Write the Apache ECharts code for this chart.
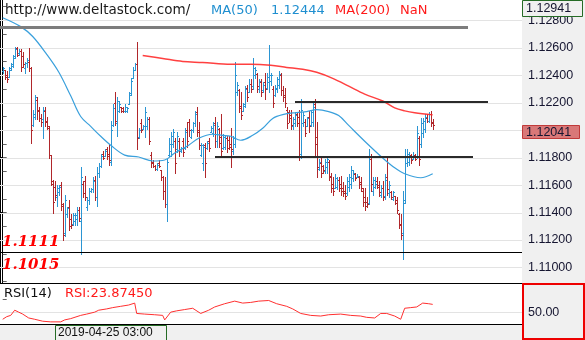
<!DOCTYPE html>
<html>
<head>
<meta charset="utf-8">
<script src="https://cdn.jsdelivr.net/npm/echarts@6/dist/echarts.min.js"></script>
<style>
  html, body { margin: 0; padding: 0; background: #fff; }
  #chart { width: 585px; height: 340px; }
</style>
</head>
<body>
<div id="chart"></div>
<script>
// EUR/USD hourly OHLC bars (oldest first)
const opens = [
  1.1243,1.1244,1.1240,1.1239,1.1245,1.1247,1.1254,1.1260,1.1256,1.1258,
  1.1254,1.1245,1.1249,1.1250,1.1245,1.1204,1.1210,1.1222,1.1215,1.1209,
  1.1208,1.1214,1.1207,1.1202,1.1182,1.1161,1.1159,1.1151,1.1155,1.1160,
  1.1145,1.1125,1.1139,1.1144,1.1135,1.1132,1.1134,1.1135,1.1142,1.1134,
  1.1161,1.1163,1.1144,1.1149,1.1156,1.1157,1.1164,1.1151,1.1169,1.1174,
  1.1183,1.1181,1.1186,1.1183,1.1177,1.1204,1.1220,1.1205,1.1214,1.1217,
  1.1216,1.1214,1.1214,1.1219,1.1227,1.1238,1.1244,1.1248,1.1195,1.1205,
  1.1201,1.1203,1.1203,1.1208,1.1182,1.1177,1.1174,1.1172,1.1176,1.1171,
  1.1166,1.1156,1.1146,1.1182,1.1185,1.1190,1.1192,1.1186,1.1192,1.1185,
  1.1192,1.1187,1.1200,1.1206,1.1195,1.1200,1.1205,1.1213,1.1200,1.1182,
  1.1176,1.1189,1.1187,1.1192,1.1199,1.1198,1.1205,1.1192,1.1201,1.1195,
  1.1187,1.1188,1.1194,1.1193,1.1190,1.1185,1.1190,1.1228,1.1229,1.1218,
  1.1214,1.1218,1.1231,1.1228,1.1234,1.1232,1.1240,1.1241,1.1230,1.1235,
  1.1229,1.1235,1.1231,1.1235,1.1236,1.1230,1.1226,1.1230,1.1233,1.1240,
  1.1229,1.1226,1.1215,1.1213,1.1211,1.1203,1.1205,1.1212,1.1210,1.1183,
  1.1205,1.1206,1.1203,1.1210,1.1204,1.1206,1.1219,1.1195,1.1172,1.1176,
  1.1174,1.1170,1.1173,1.1177,1.1166,1.1161,1.1158,1.1159,1.1164,1.1161,
  1.1158,1.1156,1.1154,1.1159,1.1161,1.1165,1.1168,1.1166,1.1166,1.1162,
  1.1156,1.1151,1.1148,1.1147,1.1179,1.1156,1.1159,1.1163,1.1160,1.1153,
  1.1158,1.1152,1.1166,1.1154,1.1155,1.1150,1.1152,1.1149,1.1139,1.1132,
  1.1125,1.1149,1.1176,1.1177,1.1182,1.1179,1.1182,1.1181,1.1194,1.1190,
  1.1198,1.1201,1.1209,1.1207,1.1212,1.1206
];
const highs = [
  1.1246,1.1244,1.1243,1.1246,1.1249,1.1255,1.1261,1.1261,1.1259,1.1259,
  1.1257,1.1250,1.1253,1.1260,1.1246,1.1215,1.1226,1.1224,1.1217,1.1212,
  1.1217,1.1217,1.1210,1.1203,1.1182,1.1164,1.1163,1.1160,1.1160,1.1162,
  1.1147,1.1153,1.1144,1.1149,1.1139,1.1140,1.1140,1.1144,1.1144,1.1173,
  1.1163,1.1167,1.1151,1.1158,1.1158,1.1166,1.1167,1.1173,1.1176,1.1183,
  1.1185,1.1186,1.1188,1.1190,1.1207,1.1219,1.1228,1.1224,1.1221,1.1217,
  1.1217,1.1219,1.1217,1.1228,1.1238,1.1246,1.1249,1.1264,1.1202,1.1208,
  1.1204,1.1217,1.1210,1.1210,1.1184,1.1178,1.1175,1.1176,1.1178,1.1171,
  1.1167,1.1166,1.1179,1.1194,1.1199,1.1201,1.1194,1.1199,1.1194,1.1188,
  1.1194,1.1202,1.1206,1.1208,1.1201,1.1206,1.1214,1.1217,1.1206,1.1191,
  1.1190,1.1191,1.1192,1.1194,1.1203,1.1206,1.1210,1.1206,1.1202,1.1212,
  1.1197,1.1196,1.1196,1.1196,1.1202,1.1196,1.1250,1.1235,1.1230,1.1228,
  1.1220,1.1232,1.1233,1.1237,1.1237,1.1253,1.1246,1.1242,1.1237,1.1237,
  1.1235,1.1242,1.1242,1.1262,1.1242,1.1232,1.1233,1.1239,1.1243,1.1242,
  1.1232,1.1231,1.1217,1.1215,1.1215,1.1210,1.1213,1.1213,1.1215,1.1223,
  1.1213,1.1208,1.1210,1.1214,1.1215,1.1220,1.1223,1.1206,1.1179,1.1180,
  1.1175,1.1179,1.1180,1.1178,1.1169,1.1166,1.1168,1.1166,1.1166,1.1167,
  1.1162,1.1160,1.1166,1.1168,1.1174,1.1171,1.1169,1.1168,1.1167,1.1166,
  1.1158,1.1158,1.1151,1.1186,1.1183,1.1166,1.1166,1.1166,1.1163,1.1160,
  1.1163,1.1168,1.1180,1.1163,1.1156,1.1156,1.1152,1.1151,1.1140,1.1139,
  1.1156,1.1186,1.1186,1.1184,1.1183,1.1184,1.1183,1.1203,1.1196,1.1209,
  1.1209,1.1212,1.1212,1.1213,1.1214,1.1208
];
const lows = [
  1.1242,1.1237,1.1235,1.1239,1.1244,1.1246,1.1253,1.1254,1.1255,1.1243,
  1.1246,1.1242,1.1246,1.1243,1.1191,1.1203,1.1208,1.1208,1.1207,1.1203,
  1.1194,1.1203,1.1201,1.1180,1.1160,1.1140,1.1149,1.1145,1.1153,1.1142,
  1.1120,1.1123,1.1137,1.1127,1.1129,1.1131,1.1131,1.1131,1.1134,1.1110,
  1.1151,1.1149,1.1142,1.1146,1.1155,1.1155,1.1149,1.1145,1.1166,1.1173,
  1.1179,1.1181,1.1179,1.1175,1.1175,1.1203,1.1204,1.1196,1.1213,1.1213,
  1.1213,1.1213,1.1213,1.1219,1.1226,1.1238,1.1244,1.1186,1.1194,1.1199,
  1.1201,1.1195,1.1201,1.1190,1.1173,1.1173,1.1171,1.1171,1.1173,1.1164,
  1.1150,1.1144,1.1134,1.1181,1.1181,1.1188,1.1169,1.1184,1.1181,1.1184,
  1.1181,1.1186,1.1188,1.1196,1.1194,1.1199,1.1203,1.1196,1.1186,1.1181,
  1.1171,1.1166,1.1186,1.1185,1.1199,1.1196,1.1188,1.1188,1.1188,1.1181,
  1.1186,1.1186,1.1184,1.1186,1.1173,1.1183,1.1188,1.1226,1.1213,1.1208,
  1.1214,1.1217,1.1221,1.1228,1.1228,1.1230,1.1238,1.1228,1.1228,1.1225,
  1.1228,1.1223,1.1230,1.1228,1.1233,1.1217,1.1225,1.1228,1.1231,1.1226,
  1.1221,1.1217,1.1202,1.1206,1.1201,1.1201,1.1203,1.1203,1.1178,1.1180,
  1.1203,1.1196,1.1203,1.1199,1.1203,1.1203,1.1182,1.1166,1.1171,1.1166,
  1.1169,1.1169,1.1169,1.1164,1.1155,1.1153,1.1158,1.1157,1.1156,1.1153,
  1.1152,1.1150,1.1153,1.1156,1.1158,1.1163,1.1164,1.1166,1.1158,1.1156,
  1.1145,1.1142,1.1144,1.1146,1.1156,1.1153,1.1158,1.1158,1.1152,1.1151,
  1.1149,1.1150,1.1153,1.1151,1.1150,1.1149,1.1146,1.1140,1.1129,1.1121,
  1.1106,1.1147,1.1174,1.1175,1.1176,1.1179,1.1178,1.1180,1.1175,1.1188,
  1.1195,1.1199,1.1206,1.1206,1.1203,1.1201
];
const closes = [
  1.1245,1.1239,1.1237,1.1244,1.1248,1.1253,1.1259,1.1255,1.1258,1.1246,
  1.1248,1.1249,1.1251,1.1245,1.1200,1.1212,1.1224,1.1214,1.1209,1.1206,
  1.1215,1.1206,1.1203,1.1182,1.1163,1.1148,1.1153,1.1158,1.1159,1.1146,
  1.1124,1.1149,1.1143,1.1130,1.1131,1.1138,1.1138,1.1142,1.1136,1.1166,
  1.1154,1.1151,1.1149,1.1156,1.1157,1.1163,1.1151,1.1169,1.1174,1.1181,
  1.1180,1.1185,1.1181,1.1178,1.1200,1.1216,1.1207,1.1221,1.1219,1.1214,
  1.1214,1.1217,1.1216,1.1226,1.1236,1.1244,1.1248,1.1194,1.1200,1.1200,
  1.1203,1.1213,1.1208,1.1192,1.1176,1.1174,1.1172,1.1175,1.1174,1.1166,
  1.1156,1.1146,1.1177,1.1190,1.1196,1.1199,1.1176,1.1196,1.1185,1.1187,
  1.1184,1.1199,1.1192,1.1200,1.1200,1.1205,1.1212,1.1199,1.1189,1.1189,
  1.1188,1.1176,1.1191,1.1187,1.1202,1.1204,1.1192,1.1203,1.1191,1.1185,
  1.1195,1.1194,1.1187,1.1188,1.1186,1.1194,1.1240,1.1233,1.1216,1.1211,
  1.1219,1.1230,1.1224,1.1234,1.1230,1.1245,1.1244,1.1232,1.1236,1.1228,
  1.1233,1.1230,1.1239,1.1240,1.1240,1.1220,1.1231,1.1237,1.1241,1.1229,
  1.1224,1.1220,1.1205,1.1209,1.1204,1.1208,1.1211,1.1205,1.1183,1.1215,
  1.1211,1.1198,1.1209,1.1203,1.1213,1.1217,1.1190,1.1173,1.1177,1.1169,
  1.1171,1.1177,1.1179,1.1167,1.1158,1.1156,1.1165,1.1164,1.1158,1.1156,
  1.1154,1.1152,1.1163,1.1166,1.1171,1.1169,1.1165,1.1167,1.1161,1.1158,
  1.1148,1.1145,1.1146,1.1181,1.1161,1.1164,1.1161,1.1159,1.1155,1.1158,
  1.1151,1.1164,1.1157,1.1160,1.1151,1.1155,1.1147,1.1142,1.1131,1.1124,
  1.1147,1.1181,1.1183,1.1182,1.1178,1.1182,1.1179,1.1198,1.1179,1.1205,
  1.1207,1.1210,1.1207,1.1212,1.1205,1.12041
];

// Moving averages, sampled as [bar index, value]
const ma50 = [
  [0,1.1282],[9,1.12755],[15,1.12683],[22,1.12553],[28,1.12424],[34,1.12251],
  [39,1.12100],[44,1.12028],[49,1.11956],[54,1.11891],[61,1.11819],[68,1.11805],
  [75,1.11776],[81,1.11783],[86,1.11834],[93,1.11891],[98,1.11942],[105,1.11971],
  [110,1.11963],[114,1.11956],[119,1.11927],[125,1.11963],[130,1.12014],[135,1.12086],
  [140,1.12114],[147,1.12129],[152,1.12136],[157,1.12150],[163,1.12136],[168,1.12107],
  [173,1.12035],[181,1.11920],[190,1.11798],[196,1.11726],[201,1.11683],[209,1.11654],
  [215,1.11683]
];
const ma200 = [
  [70,1.12545],[80,1.12523],[90,1.12501],[100,1.12494],[114,1.12480],[124,1.12480],
  [134,1.12473],[142,1.12458],[150,1.12444],[157,1.12422],[165,1.12378],[173,1.12321],
  [181,1.12263],[190,1.12213],[196,1.12163],[201,1.12141],[206,1.12127],[215,1.12112]
];

// RSI(14), sampled as [bar index, value]
const rsi14 = [
  [0,39],[2,43],[4,45],[6,53],[8,50],[10,47],[11,44],[13,41],[16,39],[20,36],
  [24,35],[29,35],[31,38],[34,40],[39,45],[42,47],[46,50],[48,53],[52,55],[55,57],
  [59,59],[63,61],[66,64],[67,48],[71,47],[76,46],[80,45],[81,38],[84,50],[87,52],
  [91,54],[95,56],[99,48],[103,53],[106,58],[111,63],[116,67],[120,64],[124,65],
  [128,67],[133,68],[137,63],[142,59],[145,55],[149,48],[154,45],[159,44],[163,46],
  [169,47],[174,45],[179,44],[182,42],[186,41],[189,48],[192,48],[196,44],[199,39],
  [201,56],[204,57],[207,58],[210,64],[213,63],[215,62]
];

// Horizontal support / resistance levels: price and bar span
const levelPrices = [1.1275, 1.1221, 1.1181, 1.1111];
const levelFrom   = [-1.35, 146.15, 106.15, -1.35];
const levelTo     = [232.65, 242.65, 235.15, 259.65];

// Axis ticks
const priceTicks = [1.110, 1.112, 1.114, 1.116, 1.118, 1.120, 1.122, 1.124, 1.126, 1.128];
const priceMinorTicks = [1.109, 1.110, 1.111, 1.112, 1.113, 1.114, 1.115, 1.116, 1.117, 1.118,
  1.119, 1.120, 1.121, 1.122, 1.123, 1.124, 1.125, 1.126, 1.127, 1.128, 1.129];
const rsiTicks = [50];
const rsiMinorTicks = [30, 50, 70];

const cursorBar = 54;
const cursorTime = '2019-04-25 03:00';
const cursorPrice = 1.12941;
const lastPrice = closes[closes.length - 1];

const UP = '#2b95d3';
const DOWN = '#b0272b';
const SANS = '"DejaVu Sans", Verdana, sans-serif';
const AXIS_FONT = '"Liberation Sans", Arial, sans-serif';

const bars = opens.map((o, i) => [i, o, closes[i], lows[i], highs[i]]);

function renderBar(params, api) {
  const i = api.value(0);
  const o = api.value(1), c = api.value(2);
  const pH = api.coord([i, api.value(4)]);
  const pL = api.coord([i, api.value(3)]);
  const pO = api.coord([i, o]);
  const pC = api.coord([i, c]);
  const x = Math.round(pH[0]) + 0.5;
  const color = c >= o ? UP : DOWN;
  const yo = Math.round(pO[1]) + 0.5;
  const yc = Math.round(pC[1]) + 0.5;
  return {
    type: 'group',
    children: [
      { type: 'line', shape: { x1: x, y1: Math.round(pH[1]), x2: x, y2: Math.round(pL[1]) + 1 },
        style: { stroke: color, lineWidth: 1 } },
      { type: 'line', shape: { x1: x - 1.5, y1: yo, x2: x - 0.5, y2: yo },
        style: { stroke: color, lineWidth: 1 } },
      { type: 'line', shape: { x1: x + 0.5, y1: yc, x2: x + 1.5, y2: yc },
        style: { stroke: color, lineWidth: 1 } }
    ]
  };
}

function renderGridLine(params, api) {
  const y = Math.round(api.coord([0, api.value(1)])[1]) + 0.5;
  const cs = params.coordSys;
  return { type: 'line', shape: { x1: cs.x, y1: y, x2: cs.x + cs.width, y2: y },
    style: { stroke: '#e3e3e3', lineWidth: 1 } };
}

const levelStyles = [
  { color: '#7d7d7d', width: 3 },
  { color: '#2a2a2a', width: 2 },
  { color: '#2a2a2a', width: 2 },
  { color: '#000000', width: 1 }
];
const levelLines = levelPrices.map((p, k) => [
  { coord: [levelFrom[k], p], lineStyle: Object.assign({ type: 'solid', opacity: 1 }, levelStyles[k]) },
  { coord: [levelTo[k], p] }
]);

const chart = echarts.init(document.getElementById('chart'), null, { renderer: 'canvas', width: 585, height: 340 });

chart.setOption({
  animation: false,
  backgroundColor: '#f0f0f0',
  grid: [
    { left: 0, top: 0, width: 522, height: 283, show: true, backgroundColor: '#ffffff', borderWidth: 0 },
    { left: 0, top: 283, width: 522, height: 57, show: true, backgroundColor: '#ffffff', borderWidth: 0 }
  ],
  xAxis: [
    { type: 'value', gridIndex: 0, min: -1.35, max: 259.65, show: false },
    { type: 'value', gridIndex: 1, min: -1.35, max: 259.65, show: false }
  ],
  yAxis: [
    {
      type: 'value', gridIndex: 0, position: 'right', min: 1.10887, max: 1.12949,
      axisLine: { show: true, lineStyle: { color: '#000', width: 1 } },
      axisTick: { show: true, length: 4, customValues: priceMinorTicks, lineStyle: { color: '#666' } },
      axisLabel: { customValues: priceTicks, formatter: v => v.toFixed(5), color: '#151530',
        fontFamily: AXIS_FONT, fontSize: 12.5, margin: 6 },
      splitLine: { show: false }
    },
    {
      type: 'value', gridIndex: 0, position: 'left', min: 1.10887, max: 1.12949,
      axisLine: { show: true, lineStyle: { color: '#000', width: 1 } },
      axisTick: { show: true, inside: true, length: 3, customValues: priceTicks, lineStyle: { color: '#000' } },
      axisLabel: { show: false },
      splitLine: { show: false }
    },
    {
      type: 'value', gridIndex: 1, position: 'right', min: 7, max: 95,
      axisLine: { show: false },
      axisTick: { show: true, length: 4, customValues: rsiMinorTicks, lineStyle: { color: '#666' } },
      axisLabel: { customValues: rsiTicks, formatter: v => v.toFixed(2), color: '#151530',
        fontFamily: AXIS_FONT, fontSize: 12.5, margin: 6 },
      splitLine: { show: false }
    }
  ],
  series: [
    {
      type: 'custom', name: 'grid', xAxisIndex: 0, yAxisIndex: 0, silent: true, z: 1,
      data: priceTicks.map(v => [0, v]), encode: { x: 0, y: 1 }, renderItem: renderGridLine
    },
    {
      type: 'custom', name: 'rsiGrid', xAxisIndex: 1, yAxisIndex: 2, silent: true, z: 1,
      data: rsiTicks.map(v => [0, v]), encode: { x: 0, y: 1 }, renderItem: renderGridLine
    },
    {
      type: 'custom', name: 'EURUSD', xAxisIndex: 0, yAxisIndex: 0, z: 2, clip: true,
      data: bars, encode: { x: 0, y: [1, 2, 3, 4] }, renderItem: renderBar
    },
    {
      type: 'line', name: 'MA(50)', xAxisIndex: 0, yAxisIndex: 0, z: 3, data: ma50,
      showSymbol: false, symbol: 'none', smooth: 0.35, clip: true,
      lineStyle: { color: '#3aa0dc', width: 1.2 }
    },
    {
      type: 'line', name: 'MA(200)', xAxisIndex: 0, yAxisIndex: 0, z: 3, data: ma200,
      showSymbol: false, symbol: 'none', smooth: 0.35, clip: true,
      lineStyle: { color: '#ff2b2b', width: 1.5, opacity: 0.9 },
      markLine: { silent: true, symbol: ['none', 'none'], label: { show: false },
        emphasis: { disabled: true }, animation: false, data: levelLines }
    },
    {
      type: 'line', name: 'RSI(14)', xAxisIndex: 1, yAxisIndex: 2, z: 3, data: rsi14,
      showSymbol: false, symbol: 'none', clip: true,
      lineStyle: { color: '#ff3030', width: 1 }
    }
  ]
});

// Overlay texts, panel frames and price/time tags
const cursorX = chart.convertToPixel({ xAxisIndex: 0 }, cursorBar);
const cursorY = chart.convertToPixel({ yAxisIndex: 0 }, cursorPrice);
const lastY = chart.convertToPixel({ yAxisIndex: 0 }, lastPrice);
const y1111 = chart.convertToPixel({ yAxisIndex: 0 }, levelPrices[3]);

function label(x, y, text, fill, font, z) {
  return { type: 'text', x: x, y: y, z: z || 110, silent: true,
    style: { text: text, fill: fill, font: font, align: 'left', verticalAlign: 'middle' } };
}

chart.setOption({
  graphic: [
    label(5, 10.5, 'http://www.deltastock.com/', '#1a1a1a', '13.5px ' + SANS),
    label(211, 10.5, 'MA(50)', '#1f8fd0', '13px ' + SANS),
    label(271, 10.5, '1.12444', '#1f8fd0', '13px ' + SANS),
    label(335, 10.5, 'MA(200)', '#ff1a1a', '13px ' + SANS),
    label(400, 10.5, 'NaN', '#ff1a1a', '13px ' + SANS),
    label(2, y1111 - 10, '1.1111', '#ff0000', 'italic bold 15px "DejaVu Serif", serif'),
    label(2, 265.5, '1.1015', '#ff0000', 'italic bold 15px "DejaVu Serif", serif'),
    { type: 'line', z: 100, silent: true, shape: { x1: 0, y1: 283.5, x2: 522, y2: 283.5 },
      style: { stroke: '#000', lineWidth: 1 } },
    label(4, 293.5, 'RSI(14)', '#111', '13px ' + SANS),
    label(65, 293.5, 'RSI:23.87450', '#ff1a1a', '13px ' + SANS),
    // time strip
    { type: 'rect', z: 100, silent: true, shape: { x: 0, y: 324, width: 522, height: 16 },
      style: { fill: '#f0f0f0' } },
    { type: 'line', z: 101, silent: true, shape: { x1: 0, y1: 324.5, x2: 522, y2: 324.5 },
      style: { stroke: '#000', lineWidth: 1 } },
    { type: 'rect', z: 102, silent: true,
      shape: { x: Math.round(cursorX) - 55.5, y: 325.5, width: 111, height: 15 },
      style: { fill: '#f0f0f0', stroke: '#256b25', lineWidth: 1 } },
    label(Math.round(cursorX) - 53, 333, cursorTime, '#111', '12px ' + AXIS_FONT, 120),
    // RSI value scale frame
    { type: 'rect', z: 100, silent: true, shape: { x: 523, y: 284, width: 61, height: 55 },
      style: { fill: 'none', stroke: '#ee0000', lineWidth: 2 } },
    // cursor price tag
    { type: 'rect', z: 100, silent: true,
      shape: { x: 522.5, y: Math.max(0.5, Math.round(cursorY) - 0.5), width: 60, height: 16 },
      style: { fill: '#f0f0f0', stroke: '#256b25', lineWidth: 1 } },
    label(526, Math.max(0.5, Math.round(cursorY) - 0.5) + 8, cursorPrice.toFixed(5), '#151530', '12.5px ' + AXIS_FONT, 120),
    // last price tag
    { type: 'rect', z: 100, silent: true,
      shape: { x: 522.5, y: Math.round(lastY) + 0.5, width: 57, height: 13 },
      style: { fill: '#d97878', stroke: '#c03a3a', lineWidth: 1 } },
    label(526, Math.round(lastY) + 7.5, lastPrice.toFixed(5), '#151530', '12.5px ' + AXIS_FONT, 120)
  ]
});
</script>
</body>
</html>
